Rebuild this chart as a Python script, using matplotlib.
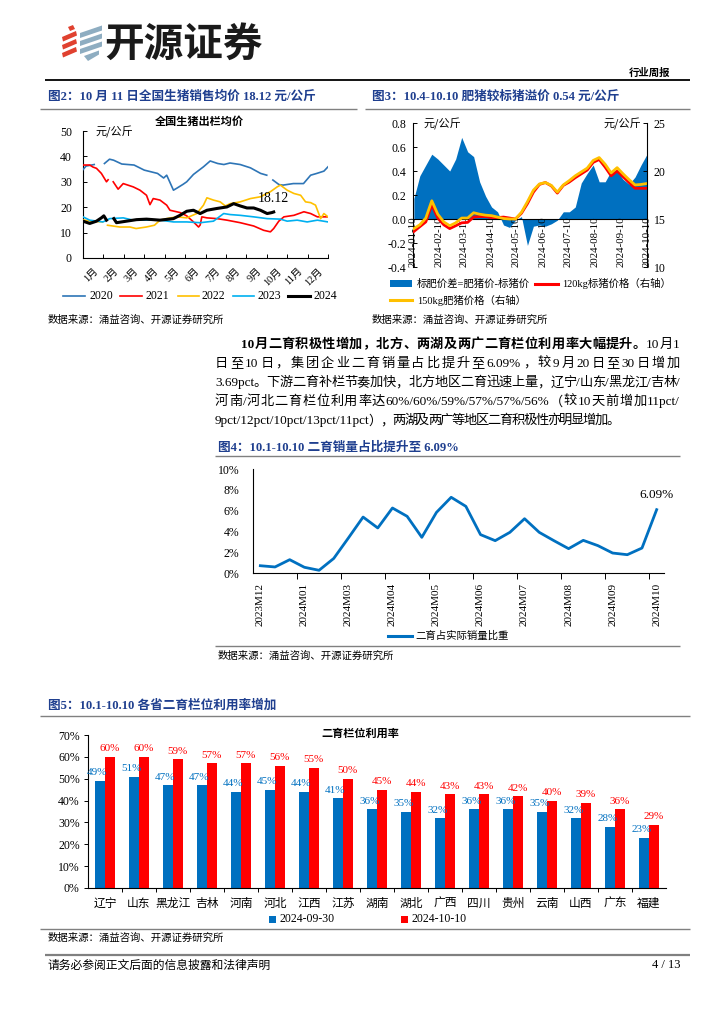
import matplotlib
matplotlib.use('Agg')
import matplotlib.pyplot as plt
import numpy as np
import pandas as pd
from matplotlib.patches import Polygon, Rectangle
from matplotlib.lines import Line2D

W, H = 724, 1024
CJK = 'Noto Sans CJK SC'
SER = ['Liberation Serif', CJK]
plt.rcParams['font.family'] = SER
plt.rcParams['axes.unicode_minus'] = False

# ------------------------------------------------------------------ data
# Figure 2: national hog price by year (x = month position 0..12)
months = ['1月', '2月', '3月', '4月', '5月', '6月', '7月', '8月', '9月', '10月', '11月', '12月']
x2020 = [0.0, 0.15, 0.35, 0.55, 0.75, 1.05, 1.3, 1.5, 1.9, 2.5, 3.0, 3.65, 3.95, 4.1, 4.43, 4.6, 4.9, 5.08, 5.41,
         5.9, 6.23, 6.6, 6.9, 7.2, 7.7, 8.2, 8.7, 9.0, 9.15, 9.3, 9.6, 9.8, 10.3, 10.8, 11.15, 11.45, 11.8, 12.0]
y2020 = [34.8, 36.2, 36.5, 36.8, np.nan, 37.2, 38.9, 38.5, 37.0, 36.6, 34.6, 33.3, 31.5, 32.6, 26.7, 27.5, 29.0, 30.0, 32.9,
         35.9, 38.2, 37.2, 36.8, 37.4, 36.8, 35.5, 33.3, 32.6, np.nan, 30.7, 28.9, 28.7, 29.3, 29.3, 32.6, 33.3, 34.2, 35.9]
x2021 = [0.0, 0.33, 0.49, 0.66, 0.9, 1.15, 1.23, 1.3, 1.48, 1.72, 1.97, 2.46, 2.79, 3.11, 3.28, 3.44, 3.77, 4.1, 4.26,
         4.75, 5.08, 5.41, 5.66, 5.74, 5.82, 6.07, 6.56, 7.05, 7.7, 8.36, 8.85, 9.18, 9.34, 9.59, 9.84, 10.33, 10.82,
         11.15, 11.48, 12.0]
y2021 = [36.6, 36.6, 35.8, 35.3, 33.3, 30.0, 30.8, np.nan, 30.0, 27.1, 29.3, 28.0, 26.7, 24.7, 21.0, 23.4, 22.8, 20.8, 18.8,
         17.9, 16.6, 14.2, 12.2, 13.0, 16.2, 15.8, 15.5, 14.9, 13.9, 12.6, 10.9, 10.3, 11.6, 14.5, 16.2, 16.8, 18.2,
         17.5, 16.2, 16.2]
x2022 = [0.0, 0.4, 0.95, 1.05, 1.2, 1.8, 2.3, 2.6, 3.1, 3.5, 3.77, 4.1, 4.59, 5.08, 5.57, 5.9, 6.07, 6.39, 6.72, 6.97,
         7.21, 7.7, 8.2, 8.69, 9.18, 9.51, 9.67, 10.0, 10.33, 10.66, 10.9, 11.15, 11.39, 11.64, 11.8, 12.0]
y2022 = [15.0, 14.5, 14.2, np.nan, 12.9, 12.2, 12.2, 11.6, 12.2, 12.9, 14.9, 15.5, 16.2, 15.8, 17.5, 20.8, 23.7, 22.8,
         22.1, 20.5, 21.4, 22.1, 23.4, 24.1, 26.1, 28.0, 28.7, 26.7, 25.4, 24.7, 22.1, 21.8, 20.8, 15.5, 17.5, 16.2]
x2023 = [0.0, 0.33, 0.98, 1.31, 1.97, 2.46, 3.11, 3.77, 4.43, 5.08, 5.74, 6.39, 6.89, 7.21, 7.7, 8.36, 9.02, 9.67,
         10.0, 10.49, 10.98, 11.48, 12.0]
y2023 = [16.2, 14.9, 14.2, 15.5, 15.8, 14.9, 14.9, 14.9, 14.2, 14.2, 13.9, 14.5, 17.5, 17.1, 16.8, 16.2, 15.5, 15.3,
         14.5, 14.9, 14.2, 14.9, 14.2]
x2024 = [0.0, 0.33, 0.66, 0.9, 1.02, 1.15, 1.3, 1.51, 1.64, 2.13, 2.62, 3.11, 3.77, 4.43, 4.75, 5.08, 5.41, 5.74, 6.07,
         6.56, 7.05, 7.38, 7.7, 8.03, 8.36, 8.69, 9.02, 9.26, 9.34]
y2024 = [14.5, 13.6, 14.5, 15.8, 16.6, 14.9, np.nan, 15.5, 13.9, 14.5, 15.1, 15.3, 14.9, 15.5, 16.8, 18.4, 18.8, 17.5, 18.8,
         19.5, 20.1, 21.4, 20.5, 19.7, 19.7, 18.8, 17.5, 17.9, 18.12]
years = ['2020', '2021', '2022', '2023', '2024']

# Figure 3: fat vs standard hog price (weekly)
fig3_dates = pd.date_range(end='2024-10-10', periods=40, freq='7D')
spread = [0.17, 0.36, 0.45, 0.54, 0.50, 0.45, 0.40, 0.50, 0.68, 0.56, 0.52, 0.31, 0.19, 0.10, 0.06, -0.05, -0.07,
          -0.01, 0.02, -0.22, -0.06, -0.05, -0.06, -0.04, -0.01, 0.06, 0.06, 0.10, 0.30, 0.38, 0.45, 0.31, 0.31,
          0.40, 0.40, 0.33, 0.29, 0.35, 0.45, 0.54]
price120 = [13.7, 14.2, 14.7, 16.5, 15.1, 14.4, 14.0, 14.3, 14.6, 14.65, 15.2, 15.25, 15.25, 15.15, 15.15, 15.2, 15.1,
            15.0, 15.6, 16.6, 17.8, 18.6, 18.8, 18.45, 17.7, 18.5, 18.85, 19.3, 19.7, 20.1, 20.9, 21.2, 20.4, 19.5,
            20.0, 19.4, 18.8, 18.2, 18.2, 18.2]
price150 = [14.0, 14.4, 15.1, 16.9, 15.5, 14.7, 14.3, 14.6, 15.1, 15.1, 15.65, 15.5, 15.4, 15.35, 15.2, 15.05, 15.0,
            15.0, 15.7, 16.8, 18.0, 18.65, 18.8, 18.5, 17.8, 18.55, 19.0, 19.5, 19.9, 20.3, 21.1, 21.4, 20.7, 19.8,
            20.35, 19.7, 19.1, 18.55, 18.6, 18.7]
fig3_ticklabels = ['2024-01-10', '2024-02-10', '2024-03-10', '2024-04-10', '2024-05-10', '2024-06-10',
                   '2024-07-10', '2024-08-10', '2024-09-10', '2024-10-10']

# Figure 4: share of re-fattening sales (%)
fig4_vals = [0.70, 0.58, 1.28, 0.55, 0.26, 1.40, 3.37, 5.38, 4.33, 6.25, 5.45, 3.43, 5.83, 7.28, 6.41, 3.69, 3.11,
             3.91, 5.22, 3.91, 3.11, 2.34, 3.14, 2.63, 1.92, 1.76, 2.40, 6.09]
fig4_labels = ['2023M12', '2024M01', '2024M03', '2024M04', '2024M05', '2024M06', '2024M07', '2024M08',
               '2024M09', '2024M10']

# Figure 5: pen utilisation by province (%)
provinces = ['辽宁', '山东', '黑龙江', '吉林', '河南', '河北', '江西', '江苏', '湖南', '湖北', '广西', '四川', '贵州',
             '云南', '山西', '广东', '福建']
util_0930 = [49, 51, 47, 47, 44, 45, 44, 41, 36, 35, 32, 36, 36, 35, 32, 28, 23]
util_1010 = [60, 60, 59, 57, 57, 56, 55, 50, 45, 44, 43, 43, 42, 40, 39, 36, 29]

# ------------------------------------------------------------------ figure
fig = plt.figure(figsize=(W / 100, H / 100), dpi=100)
fig.patch.set_facecolor('white')


def add_ax(l, t, r, b):
    return fig.add_axes([l / W, 1 - b / H, (r - l) / W, (b - t) / H])


TITLE_C = '#1F3F8F'
BLUE = '#0070C0'
RED = '#FF0000'
YEL = '#FFC000'

# ---------------- Figure 2 chart
ax1 = add_ax(83, 131, 328, 258)
cols1 = ['#2E75B6', '#FF0000', '#FFC000', '#00B0F0', '#000000']
xs = [x2020, x2021, x2022, x2023, x2024]
ys = [y2020, y2021, y2022, y2023, y2024]
for i in range(5):
    ax1.plot(xs[i], ys[i], color=cols1[i], lw=2.2 if i == 4 else 1.2, zorder=3 + (i == 4))
ax1.set_xlim(0, 12)
ax1.set_ylim(0, 50)
ax1.set_yticks(range(0, 51, 10))
ax1.set_xticks(range(0, 13))
ax1.set_xticklabels([])
ax1.set_xticks(np.arange(12) + 0.5, minor=True)
ax1.set_xticklabels(months, minor=True, rotation=45, ha='right', rotation_mode='anchor', fontsize=7.5)
ax1.tick_params(axis='x', which='major', direction='in', length=3, width=0.7)
ax1.tick_params(axis='x', which='minor', length=0, pad=6)
ax1.tick_params(axis='y', direction='in', length=3, width=0.7, labelsize=8.5, pad=8)
for s in ['top', 'right']:
    ax1.spines[s].set_visible(False)
for s in ['left', 'bottom']:
    ax1.spines[s].set_linewidth(0.8)

# ---------------- Figure 3 chart
ax2 = add_ax(413, 123, 647, 267)
ax2.fill_between(fig3_dates, spread, 0, color=BLUE, lw=0, zorder=1)
ax2.axhline(0, color='black', lw=0.8, zorder=2)
ax2.set_ylim(-0.4, 0.8)
yt2 = np.arange(-0.4, 0.81, 0.2)
ax2.set_yticks(yt2)
ax2.set_yticklabels([f'{v:.1f}' for v in yt2])
ax2.set_xlim(pd.Timestamp('2024-01-10'), pd.Timestamp('2024-10-10'))
ax2.set_xticks([])
for lab in fig3_ticklabels:
    ax2.text(pd.Timestamp(lab), -0.4, lab, rotation=90, ha='center', va='bottom', fontsize=7.8, zorder=5)
ax2b = ax2.twinx()
ax2b.plot(fig3_dates, price120, color=RED, lw=2.0)
ax2b.plot(fig3_dates, price150, color=YEL, lw=2.0)
ax2b.set_ylim(10, 25)
ax2b.set_yticks([10, 15, 20, 25])
for a in (ax2, ax2b):
    for s in ['top', 'bottom']:
        a.spines[s].set_visible(False)
    a.tick_params(axis='y', direction='in', length=3, width=0.7, labelsize=8.5, pad=5)
ax2.spines['right'].set_visible(False)
ax2b.spines['left'].set_visible(False)
ax2b.spines['right'].set_linewidth(0.8)
ax2.spines['left'].set_linewidth(0.8)

# ---------------- Figure 4 chart
ax3 = add_ax(253, 469, 664, 573)
ax3.plot(range(len(fig4_vals)), fig4_vals, color=BLUE, lw=2.0)
ax3.set_xlim(-0.5, len(fig4_vals) - 0.5)
ax3.set_ylim(0, 10)
ax3.set_yticks(range(0, 11, 2))
ax3.set_yticklabels([f'{v}%' for v in range(0, 11, 2)])
ax3.set_xticks(np.arange(2.5, len(fig4_vals) - 1, 3))
ax3.set_xticklabels([])
ax3.set_xticks(np.arange(0, len(fig4_vals), 3), minor=True)
ax3.set_xticklabels(fig4_labels, minor=True, rotation=90, fontsize=8)
ax3.tick_params(axis='x', which='major', direction='out', length=4, width=0.7)
ax3.tick_params(axis='x', which='minor', length=0, pad=7)
ax3.tick_params(axis='y', direction='out', length=0, labelsize=8.5, pad=10)
for s in ['top', 'right']:
    ax3.spines[s].set_visible(False)
ax3.spines['left'].set_linewidth(0.8)
ax3.spines['bottom'].set_linewidth(0.8)

# ---------------- Figure 5 chart
ax5 = add_ax(88, 735, 666, 888)
xp = np.arange(len(provinces))
bw = 0.29
v1 = np.array(util_0930) / 100
v2 = np.array(util_1010) / 100
ax5.bar(xp - bw / 2, v1, width=bw, color=BLUE, zorder=2)
ax5.bar(xp + bw / 2, v2, width=bw, color=RED, zorder=2)
for i in range(len(provinces)):
    ax5.annotate(f'{util_0930[i]}%', (xp[i] - bw / 2 - 0.08, v1[i]), xytext=(0, 2.5), textcoords='offset points',
                 ha='center', va='bottom', fontsize=8, color=BLUE)
    ax5.annotate(f'{util_1010[i]}%', (xp[i] + bw / 2, v2[i]), xytext=(0, 2.5), textcoords='offset points',
                 ha='center', va='bottom', fontsize=8, color=RED)
ax5.set_xlim(-0.5, len(provinces) - 0.5)
ax5.set_ylim(0, 0.7)
yt5 = np.arange(0, 0.71, 0.1)
ax5.set_yticks(yt5)
ax5.set_yticklabels([f'{int(round(v * 100))}%' for v in yt5])
ax5.set_xticks(np.arange(0.5, len(provinces) - 0.5, 1))
ax5.set_xticklabels([])
ax5.set_xticks(xp, minor=True)
ax5.set_xticklabels(provinces, minor=True, fontsize=8.5)
ax5.tick_params(axis='x', which='major', direction='out', length=3, width=0.7)
ax5.tick_params(axis='x', which='minor', length=0, pad=7)
ax5.tick_params(axis='y', direction='out', length=3, width=0.7, labelsize=8.5, pad=3)
for s in ['top', 'right']:
    ax5.spines[s].set_visible(False)
ax5.spines['left'].set_linewidth(0.8)
ax5.spines['bottom'].set_linewidth(0.8)

# ---------------- page overlay (pixel coordinates)
top = fig.add_axes([0, 0, 1, 1])
top.set_xlim(0, W)
top.set_ylim(H, 0)
top.axis('off')
top.patch.set_visible(False)


def T(x, y, s, **kw):
    kw.setdefault('va', 'center')
    kw.setdefault('ha', 'left')
    return top.text(x, y, s, **kw)


def hline(x0, x1, y, c='#808080', lw=1.0):
    top.add_line(Line2D([x0, x1], [y, y], color=c, lw=lw, solid_capstyle='butt'))


# logo
red_polys = [[(68, 27), (73, 25), (75, 29), (70, 31)],
             [(62, 37), (76, 31), (77, 35.5), (63, 41.5)],
             [(62, 45), (76, 39), (77, 43.5), (63, 49.5)],
             [(62, 53), (76, 47), (77, 51.5), (63, 57.5)]]
gray_polys = [[(80, 33), (102, 25.5), (102, 30.5), (80, 38)],
              [(80, 41), (102, 33.5), (102, 38.5), (80, 46)],
              [(80, 49), (102, 41.5), (102, 46.5), (80, 54)],
              [(84, 56), (99, 50.5), (99, 54.5), (88, 61)]]
for p in red_polys:
    top.add_patch(Polygon(p, closed=True, color='#E0412F', lw=0))
for p in gray_polys:
    top.add_patch(Polygon(p, closed=True, color='#8EADC1', lw=0))
T(104, 44, '开源证券', fontsize=28.5, fontweight='bold', family=CJK, color='#1A1A1A')
T(650, 73, '行业周报', fontsize=7.5, fontweight='bold', family=CJK, ha='center')
hline(45, 690, 80, c='#000000', lw=1.3)

# figure titles
T(48, 97, '图2：10 月 11 日全国生猪销售均价 18.12 元/公斤', fontsize=9.1, fontweight='bold', color=TITLE_C)
hline(40, 357, 109)
T(372, 97, '图3：10.4-10.10 肥猪较标猪溢价 0.54 元/公斤', fontsize=9.1, fontweight='bold', color=TITLE_C)
hline(365, 690, 109)

# figure 2 decorations
T(199, 121, '全国生猪出栏均价', fontsize=8, fontweight='bold', family=CJK, ha='center')
T(95, 132, '元/公斤', fontsize=8, family=CJK)
T(273, 198, '18.12', fontsize=10, ha='center')
leg1 = [(63, 85, 90), (120, 142, 146), (178, 199, 202), (233, 254, 257), (288, 310, 313)]
for i, (a, b, c) in enumerate(leg1):
    top.add_line(Line2D([a, b], [296, 296], color=cols1[i], lw=2.2 if i == 4 else 1.2))
    T(c, 296, years[i], fontsize=8.5)
T(48, 320, '数据来源：涌益咨询、开源证券研究所', fontsize=7.5, family=CJK)

# figure 3 decorations
T(424, 124, '元/公斤', fontsize=8, family=CJK)
T(604, 124, '元/公斤', fontsize=8, family=CJK)
top.add_patch(Rectangle((390, 280), 22, 7, color=BLUE, lw=0))
T(417, 283.5, '标肥价差=肥猪价-标猪价', fontsize=7.5)
top.add_line(Line2D([535, 558], [283.5, 283.5], color=RED, lw=2.2))
T(562, 283.5, '120kg标猪价格（右轴）', fontsize=7.5)
top.add_line(Line2D([390, 412], [300, 300], color=YEL, lw=2.2))
T(417, 300, '150kg肥猪价格（右轴）', fontsize=7.5)
T(372, 320, '数据来源：涌益咨询、开源证券研究所', fontsize=7.5, family=CJK)

# paragraph (justified)
renderer = fig.canvas.get_renderer()


def tokenize(s, weight='normal'):
    toks, buf = [], ''
    for ch in s:
        if ch == ' ':
            if buf:
                toks.append((buf, weight))
                buf = ''
        elif ord(ch) < 128:
            buf += ch
        else:
            if buf:
                toks.append((buf, weight))
                buf = ''
            toks.append((ch, weight))
    if buf:
        toks.append((buf, weight))
    return toks


def justify(toks, x0, x1, y, fs=9.5):
    arts = [T(0, y, t, fontsize=fs, fontweight=w) for t, w in toks]
    widths = [a.get_window_extent(renderer).width for a in arts]
    gap = (x1 - x0 - sum(widths)) / (len(arts) - 1)
    x = x0
    for a, wd in zip(arts, widths):
        a.set_x(x)
        x += wd + gap


para = [
    (tokenize('10 月二育积极性增加，北方、两湖及两广二育栏位利用率大幅提升。', 'bold') + tokenize('10 月 1'), 241, 680),
    (tokenize('日至 10 日，集团企业二育销量占比提升至 6.09%，较 9 月 20 日至 30 日增加'), 215, 680),
    (tokenize('3.69pct。下游二育补栏节奏加快，北方地区二育迅速上量，辽宁/山东/黑龙江/吉林/'), 215, 680),
    (tokenize('河南/河北二育栏位利用率达 60%/60%/59%/57%/57%/56%（较 10 天前增加 11pct/'), 215, 680),
    (tokenize('9pct/12pct/10pct/13pct/11pct），两湖及两广等地区二育积极性亦明显增加。'), 215, 620),
]
for i, (tk, a, b) in enumerate(para):
    justify(tk, a, b, 345 + i * 19)

# figure 4 decorations
T(218, 448, '图4：10.1-10.10 二育销量占比提升至 6.09%', fontsize=9.1, fontweight='bold', color=TITLE_C)
hline(215, 680, 456)
T(657, 495, '6.09%', fontsize=9.5, ha='center')
top.add_line(Line2D([388, 412], [636, 636], color=BLUE, lw=2.2))
T(415, 636, '二育占实际销量比重', fontsize=7.5, family=CJK)
hline(215, 680, 646)
T(218, 656, '数据来源：涌益咨询、开源证券研究所', fontsize=7.5, family=CJK)

# figure 5 decorations
T(48, 706, '图5：10.1-10.10 各省二育栏位利用率增加', fontsize=9.1, fontweight='bold', color=TITLE_C)
hline(40, 690, 716)
T(360, 733, '二育栏位利用率', fontsize=8, fontweight='bold', family=CJK, ha='center')
top.add_patch(Rectangle((269, 915.5), 7, 7, color=BLUE, lw=0))
T(279, 919, '2024-09-30', fontsize=8.5)
top.add_patch(Rectangle((401, 915.5), 7, 7, color=RED, lw=0))
T(411, 919, '2024-10-10', fontsize=8.5)
hline(40, 690, 929)
T(48, 938, '数据来源：涌益咨询、开源证券研究所', fontsize=7.5, family=CJK)

# footer
hline(45, 690, 955, c='#808080', lw=1.6)
T(48, 965, '请务必参阅正文后面的信息披露和法律声明', fontsize=8.5, family=CJK)
T(680, 965, '4 / 13', fontsize=9, ha='right')

fig.savefig('out.png', dpi=100, facecolor='white')
